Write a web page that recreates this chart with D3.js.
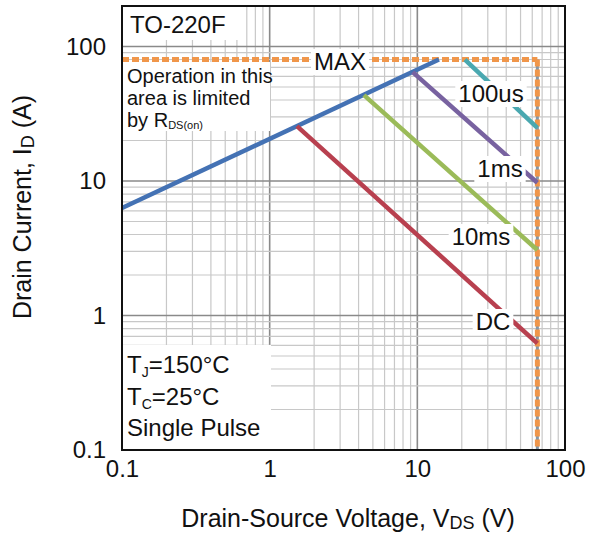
<!DOCTYPE html>
<html><head><meta charset="utf-8">
<script src="https://cdn.jsdelivr.net/npm/d3@7"></script>
<style>
body{margin:0;background:#fff;}
svg{display:block;font-family:"Liberation Sans",Arial,sans-serif;}
</style></head><body>
<svg id="chart" width="593" height="534"></svg>
<script>
// Safe operating area, TO-220F package
const xTicks = [0.1, 1, 10, 100];
const xTickLabels = ["0.1", "1", "10", "100"];
const yTicks = [0.1, 1, 10, 100];
const yTickLabels = ["0.1", "1", "10", "100"];

// Limit curves: end points (V, A)
const curveNames = ["RDS(on)", "DC", "10ms", "1ms", "100us"];
const rdsonV = [0.1, 14];   const rdsonI = [6.3, 80];
const dcV = [1.53, 65];     const dcI = [25.6, 0.62];
const ms10V = [4.35, 65];   const ms10I = [43.5, 3.07];
const ms1V = [9.3, 65];     const ms1I = [64.5, 9.7];
const us100V = [21, 65];    const us100I = [80, 24.8];
const maxCurrent = 80;  // A
const maxVoltage = 65;  // V

const svg = d3.select("#chart");
const L = 122, R = 565, T = 6, B = 450;
const x = d3.scaleLog().domain([0.1, 100]).range([L, R]);
const y = d3.scaleLog().domain([0.1, 200]).range([B, T]);

// grid
const grid = svg.append("g");
const xGrid = [], yGrid = [];
for (let e = -1; e <= 1; e++) for (let k = 1; k <= 9; k++) xGrid.push(k * Math.pow(10, e));
xGrid.push(100);
for (let e = -1; e <= 2; e++) for (let k = 1; k <= 9; k++) { const v = k * Math.pow(10, e); if (v <= 200) yGrid.push(v); }
const isMajor = v => Math.abs(Math.log10(v) - Math.round(Math.log10(v))) < 1e-9;
grid.selectAll(".vg").data(xGrid).join("line")
  .attr("x1", d => x(d)).attr("x2", d => x(d)).attr("y1", T).attr("y2", B)
  .attr("stroke", d => isMajor(d) ? "#8a8a8a" : "#c8c8c8")
  .attr("stroke-width", d => isMajor(d) ? 1.6 : 1.2);
grid.selectAll(".hg").data(yGrid).join("line")
  .attr("y1", d => y(d)).attr("y2", d => y(d)).attr("x1", L).attr("x2", R)
  .attr("stroke", d => isMajor(d) ? "#8a8a8a" : "#c8c8c8")
  .attr("stroke-width", d => isMajor(d) ? 1.6 : 1.2);

// white note panels
const panels = [[L, T, 120, 34], [L, 62, 148, 69], [L, 345, 149, B - 345]];
svg.append("g").selectAll("rect").data(panels).join("rect")
  .attr("x", d => d[0]).attr("y", d => d[1]).attr("width", d => d[2]).attr("height", d => d[3])
  .attr("fill", "#fff");

// note text
svg.append("text").attr("x", 130).attr("y", 33).attr("font-size", 24).attr("fill", "#111").text("TO-220F");
const note = svg.append("text").attr("font-size", 20).attr("fill", "#111");
note.append("tspan").attr("x", 127).attr("y", 83).text("Operation in this");
note.append("tspan").attr("x", 127).attr("y", 105).text("area is limited");
note.append("tspan").attr("x", 127).attr("y", 127).text("by R");
note.append("tspan").attr("font-size", 11).attr("dy", 2).text("DS(on)");

const cond = svg.append("g").attr("font-size", 24).attr("fill", "#111");
const c1 = cond.append("text").attr("x", 127).attr("y", 373);
c1.append("tspan").text("T");
c1.append("tspan").attr("font-size", 14).attr("dy", 4).text("J");
c1.append("tspan").attr("dy", -4).text("=150°C");
const c2 = cond.append("text").attr("x", 127).attr("y", 405);
c2.append("tspan").text("T");
c2.append("tspan").attr("font-size", 14).attr("dy", 4).text("C");
c2.append("tspan").attr("dy", -4).text("=25°C");
cond.append("text").attr("x", 127).attr("y", 436).text("Single Pulse");

// maximum current / voltage limits
svg.append("line").attr("x1", x(maxVoltage)).attr("x2", x(maxVoltage))
  .attr("y1", y(maxCurrent)).attr("y2", B).attr("stroke", "#8497a8").attr("stroke-width", 3);
const dashed = svg.append("g").attr("stroke", "#f0964a").attr("stroke-width", 5)
  .attr("stroke-dasharray", "7,3").attr("fill", "none");
dashed.append("line").attr("x1", L).attr("x2", x(maxVoltage))
  .attr("y1", y(maxCurrent)).attr("y2", y(maxCurrent));
dashed.append("line").attr("x1", x(maxVoltage)).attr("x2", x(maxVoltage))
  .attr("y1", y(maxCurrent)).attr("y2", B);

// limit curves
const curves = [
  { name: curveNames[0], v: rdsonV, i: rdsonI, color: "#4472b4" },
  { name: curveNames[1], v: dcV, i: dcI, color: "#b8404f" },
  { name: curveNames[2], v: ms10V, i: ms10I, color: "#9bbb59" },
  { name: curveNames[3], v: ms1V, i: ms1I, color: "#7862a0" },
  { name: curveNames[4], v: us100V, i: us100I, color: "#4aa8b0" }
];
const line = d3.line().x(d => x(d[0])).y(d => y(d[1]));
svg.append("g").selectAll("path").data(curves).join("path")
  .attr("d", c => line(c.v.map((v, k) => [v, c.i[k]])))
  .attr("fill", "none").attr("stroke", c => c.color).attr("stroke-width", 4.5);

// curve labels on white boxes
const labels = [
  { text: "MAX", cx: 340, by: 70 },
  { text: curveNames[4], cx: 491, by: 102 },
  { text: curveNames[3], cx: 500, by: 177 },
  { text: curveNames[2], cx: 481, by: 245 },
  { text: curveNames[1], cx: 493, by: 330 }
];
const lg = svg.append("g");
labels.forEach(l => {
  const g = lg.append("g");
  const r = g.append("rect").attr("fill", "#fff");
  const t = g.append("text").attr("x", l.cx).attr("y", l.by).attr("text-anchor", "middle")
    .attr("font-size", 24).attr("fill", "#111").text(l.text);
  const b = t.node().getBBox();
  r.attr("x", b.x - 3).attr("y", b.y + 1).attr("width", b.width + 6).attr("height", b.height - 1);
});

// frame
svg.append("rect").attr("x", L).attr("y", T).attr("width", R - L).attr("height", B - T)
  .attr("fill", "none").attr("stroke", "#111").attr("stroke-width", 2);

// axes
const xAxis = svg.append("g").attr("transform", `translate(0,${B})`)
  .call(d3.axisBottom(x).tickValues(xTicks).tickFormat((d, k) => xTickLabels[k]).tickSize(0).tickPadding(10));
xAxis.select(".domain").remove();
xAxis.selectAll("text").attr("font-size", 24).attr("font-family", "Liberation Sans, Arial, sans-serif").attr("fill", "#111");
const yAxis = svg.append("g").attr("transform", `translate(${L},0)`)
  .call(d3.axisLeft(y).tickValues(yTicks).tickFormat((d, k) => yTickLabels[k]).tickSize(0).tickPadding(16));
yAxis.select(".domain").remove();
yAxis.selectAll("text").attr("font-size", 24).attr("font-family", "Liberation Sans, Arial, sans-serif").attr("fill", "#111");

// axis titles
const xt = svg.append("text").attr("x", 348).attr("y", 527).attr("text-anchor", "middle")
  .attr("font-size", 25).attr("fill", "#111");
xt.append("tspan").text("Drain-Source Voltage, V");
xt.append("tspan").attr("font-size", 18).attr("dy", 2).text("DS");
xt.append("tspan").attr("dy", -2).text(" (V)");
const yt = svg.append("text").attr("transform", "translate(31,207) rotate(-90)")
  .attr("text-anchor", "middle").attr("font-size", 25).attr("fill", "#111");
yt.append("tspan").text("Drain Current, I");
yt.append("tspan").attr("font-size", 18).attr("dy", 3).text("D");
yt.append("tspan").attr("dy", -3).text(" (A)");
</script>
</body></html>
